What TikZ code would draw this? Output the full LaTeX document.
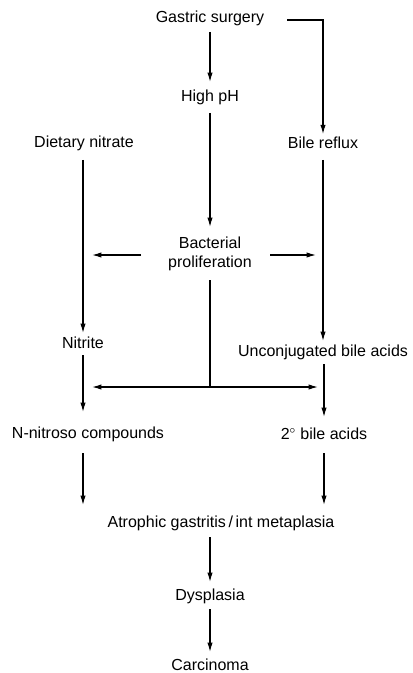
\documentclass[tikz,border=0pt]{standalone}
\usepackage{fontspec}
\setmainfont{Liberation Sans}
\usetikzlibrary{arrows.meta}
\begin{document}
\begin{tikzpicture}[x=0.75pt,y=-0.75pt,
  lbl/.style={font=\fontsize{12}{14}\selectfont, inner sep=2pt, align=center},
  arr/.style={-{Latex[length=7pt,width=4pt]}, line width=0.9pt},
  ln/.style={line width=0.9pt}]
\useasboundingbox (0,0) rectangle (412,673);
\node[lbl] (gs) at (210,18) {Gastric surgery};
\node[lbl] (hp) at (210,97) {High pH};
\node[lbl] (dn) at (84,143) {Dietary nitrate};
\node[lbl] (br) at (323,143) {Bile reflux};
\node[lbl] (bp) at (210,254) {Bacterial\\proliferation};
\node[lbl] (ni) at (83,343) {Nitrite};
\node[lbl] (ub) at (323,352) {Unconjugated bile acids};
\node[lbl] (nn) at (88,434) {N-nitroso compounds};
\node[lbl] (sb) at (324,434) {2$^\circ$ bile acids};
\node[lbl] (ag) at (221,523) {Atrophic gastritis\,/\,int metaplasia};
\node[lbl] (dy) at (210,596) {Dysplasia};
\node[lbl] (ca) at (210,665) {Carcinoma};
% connector end points
\coordinate (gsr) at (287,20);
\coordinate (gsb) at (210,32);  \coordinate (hpt) at (210,82);
\coordinate (hpb) at (210,113); \coordinate (bpt) at (210,227);
\coordinate (bpl) at (141,255); \coordinate (bl) at (92,255);
\coordinate (bpr) at (270,255); \coordinate (brr) at (316,255);
\coordinate (dnb) at (83,160);  \coordinate (nit) at (83,333);
\coordinate (brb) at (323,160); \coordinate (ubt) at (323,341);
\coordinate (bpb) at (210,280); \coordinate (j) at (210,387);
\coordinate (jl) at (92,387);   \coordinate (jr) at (318,387);
\coordinate (nib) at (83,355);  \coordinate (nnt) at (83,412);
\coordinate (ubb) at (324,364); \coordinate (sbt) at (324,417);
\coordinate (nnb) at (83,453);  \coordinate (agl) at (83,505);
\coordinate (sbb) at (324,453); \coordinate (agr) at (324,505);
\coordinate (agb) at (210,537); \coordinate (dyt) at (210,582);
\coordinate (dyb) at (210,609); \coordinate (cat) at (210,652);
\draw[arr] (gsb) -- (hpt);
\draw[arr] (gsr) -| (br.north);
\draw[arr] (hpb) -- (bpt);
\draw[arr] (bpl) -- (bl);
\draw[arr] (bpr) -- (brr);
\draw[arr] (dnb) -- (nit);
\draw[arr] (brb) -- (ubt);
\draw[ln] (bpb) -- (j);
\draw[arr] (j) -- (jl);
\draw[arr] (j) -- (jr);
\draw[arr] (nib) -- (nnt);
\draw[arr] (ubb) -- (sbt);
\draw[arr] (nnb) -- (agl);
\draw[arr] (sbb) -- (agr);
\draw[arr] (agb) -- (dyt);
\draw[arr] (dyb) -- (cat);
\end{tikzpicture}
\end{document}
